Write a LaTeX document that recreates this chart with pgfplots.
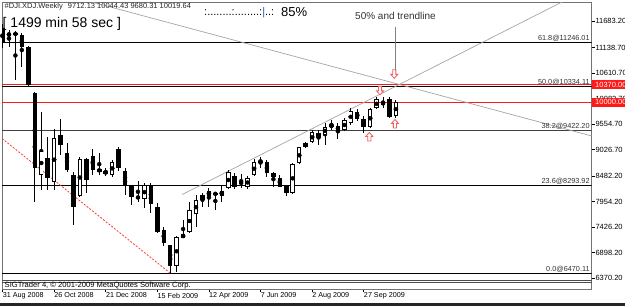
\documentclass[border=0pt]{standalone}
\usepackage{pgfplots}
\pgfplotsset{compat=1.18}
\usepackage{pgfplotstable}
\usepackage{fontspec}
\setmainfont{Liberation Sans}

\definecolor{arrowred}{RGB}{245,95,95}
\definecolor{trendgray}{RGB}{165,165,165}
\definecolor{fibred}{RGB}{255,25,25}

\pgfplotstableread{
x o h l c
0 11541 11620 11131 11231
2 11440 11480 10467 11400
3 11397 11438 10735 11148
4 11148 11160 10330 10363
5 10204 10220 7950 8641
7 8860 9288 8192 8434
9 9329 9660 8919 9123
10 8957 9164 8564 8606
11 8502 8571 7469 7847
13 8833 8854 8130 8399
14 8901 9040 8502 8606
15 8626 8951 8502 8571
16 8585 8647 8482 8523
18 9034 9087 8585 8653
19 8591 8647 8088 8296
20 8275 8296 7882 8054
21 8077 8375 7936 8000
23 8296 8330 7717 7903
24 7847 7917 7303 7330
25 7365 7434 7034 7103
26 7063 7063 6470 6627
33 8124 8151 7779 8103
36 8482 8537 8207 8248
37 8364 8523 8227 8310
41 8777 8812 8455 8550
42 8537 8571 8261 8455
43 8434 8502 8248 8261
44 8275 8296 8074 8124
49 9365 9433 9123 9274
52 9515 9571 9240 9418
55 9811 9861 9619 9654
56 9654 9722 9365 9489
59 10018 10121 9881 9950
60 10068 10109 9675 9708
}\bear

\pgfplotstableread{
x o h l c
1 11376 11510 11139 11438
6 8502 9799 8192 8999
8 8364 9453 8192 9274
12 8068 8874 8047 8833
17 8502 8812 8461 8777
22 7999 8337 7820 8296
27 6627 7240 6500 7224
28 7206 7572 7200 7276
29 7324 7950 7303 7779
30 7690 8089 7433 7986
31 7986 8130 7850 8089
32 8068 8227 7847 8172
34 8074 8296 7950 8178
35 8227 8606 8213 8571
38 8261 8482 8207 8434
39 8496 8827 8482 8765
40 8764 8881 8641 8799
45 8137 8744 8103 8730
46 8744 9087 8730 9075
47 9087 9191 9054 9158
48 9178 9433 9158 9385
50 9329 9571 9123 9501
51 9501 9640 9433 9540
53 9433 9674 9412 9640
54 9584 9882 9536 9826
57 9489 9882 9470 9861
58 9881 10109 9861 10068
61 9712.13 10044.43 9680.31 10019.64
}\bull

\pgfdeclareplotmark{uparr}{%
  \pgfpathmoveto{\pgfqpoint{0pt}{4.5pt}}%
  \pgfpathlineto{\pgfqpoint{-3.5pt}{0.6pt}}%
  \pgfpathlineto{\pgfqpoint{-1.6pt}{0.6pt}}%
  \pgfpathlineto{\pgfqpoint{-1.6pt}{-4pt}}%
  \pgfpathlineto{\pgfqpoint{1.6pt}{-4pt}}%
  \pgfpathlineto{\pgfqpoint{1.6pt}{0.6pt}}%
  \pgfpathlineto{\pgfqpoint{3.5pt}{0.6pt}}%
  \pgfpathclose
  \pgfusepathqfillstroke}
\pgfdeclareplotmark{dnarr}{%
  \pgfpathmoveto{\pgfqpoint{0pt}{-4.5pt}}%
  \pgfpathlineto{\pgfqpoint{-3.5pt}{-0.6pt}}%
  \pgfpathlineto{\pgfqpoint{-1.6pt}{-0.6pt}}%
  \pgfpathlineto{\pgfqpoint{-1.6pt}{4pt}}%
  \pgfpathlineto{\pgfqpoint{1.6pt}{4pt}}%
  \pgfpathlineto{\pgfqpoint{1.6pt}{-0.6pt}}%
  \pgfpathlineto{\pgfqpoint{3.5pt}{-0.6pt}}%
  \pgfpathclose
  \pgfusepathqfillstroke}

\begin{document}
\begin{tikzpicture}
\path[use as bounding box] (0pt,0pt) rectangle (625pt,306pt);
\fill[white] (0pt,0pt) rectangle (625pt,306pt);
\begin{axis}[
  at={(2pt,17pt)}, anchor=south west,
  scale only axis, width=589.7pt, height=287pt,
  xmin=-0.078, xmax=91.35, ymin=6145.5, ymax=12079.2,
  clip mode=individual,
  axis line style={black!55, line width=0.8pt},
  tick style={black, line width=0.6pt},
  tick align=outside, major tick length=3pt,
  xtick={0,8,16,24,32,40,48,56},
  xticklabels={31 Aug 2008, 26 Oct 2008, 21 Dec 2008, 15 Feb 2009, 12 Apr 2009, 7 Jun 2009, 2 Aug 2009, 27 Sep 2009},
  xtick pos=bottom,
  ytick={6370.2,6898.2,7426.2,7954.2,8482.2,9026.7,9554.7,10082.7,10610.7,11138.7,11683.2},
  yticklabels={6370.20,6898.20,7426.20,7954.20,8482.20,9026.70,9554.70,10082.70,10610.70,11138.70,11683.20},
  ytick pos=right, yticklabel pos=right,
  xticklabel style={font=\fontsize{7.2}{8}\selectfont, anchor=north west, inner sep=0.6pt, xshift=-0.5pt},
  yticklabel style={font=\fontsize{7.5}{8}\selectfont, anchor=west, inner sep=0.6pt},
]
% horizontal levels
\addplot[black, line width=0.8pt] coordinates {(-1,11246.01) (95,11246.01)};
\addplot[black, line width=0.8pt] coordinates {(-1,10334.11) (95,10334.11)};
\addplot[black!75, line width=0.8pt] coordinates {(-1,9422.20) (95,9422.20)};
\addplot[black, line width=0.8pt] coordinates {(-1,8293.92) (95,8293.92)};
\addplot[black, line width=0.8pt] coordinates {(-1,6470.11) (95,6470.11)};
\addplot[fibred, line width=1.4pt] coordinates {(-1,10370) (95,10370)};
\addplot[fibred, line width=1.4pt] coordinates {(-1,10000) (95,10000)};
% trend lines
\addplot[trendgray, line width=0.7pt] coordinates {(27.876,8099.3) (86.744,12079.2)};
\addplot[trendgray, line width=0.7pt] coordinates {(13.83,12079.2) (91.35,9308.8)};
\addplot[fibred!85, line width=0.8pt, dash pattern=on 2pt off 1.5pt] coordinates {(-0.078,9257.1) (25.97,6476.3)};
% wicks
\addplot[only marks, mark=none, error bars/.cd, y dir=both, y explicit, error mark=none,
  error bar style={black, line width=0.9pt}]
  table[x=x, y expr={(\thisrow{h}+\thisrow{l})/2}, y error expr={(\thisrow{h}-\thisrow{l})/2}] {\bear};
\addplot[only marks, mark=none, error bars/.cd, y dir=both, y explicit, error mark=none,
  error bar style={black, line width=0.9pt}]
  table[x=x, y expr={(\thisrow{h}+\thisrow{l})/2}, y error expr={(\thisrow{h}-\thisrow{l})/2}] {\bull};
% bodies
\addplot[only marks, mark=none, error bars/.cd, y dir=both, y explicit, error mark=none,
  error bar style={black, line width=4.5pt}]
  table[x=x, y expr={(\thisrow{o}+\thisrow{c})/2}, y error expr={max(abs(\thisrow{c}-\thisrow{o})/2,12)}] {\bear};
\addplot[only marks, mark=none, error bars/.cd, y dir=both, y explicit, error mark=none,
  error bar style={black, line width=4.5pt}]
  table[x=x, y expr={(\thisrow{o}+\thisrow{c})/2}, y error expr={max(abs(\thisrow{c}-\thisrow{o})/2,12)}] {\bull};
\addplot[only marks, mark=none, error bars/.cd, y dir=both, y explicit, error mark=none,
  error bar style={white, line width=2.6pt}]
  table[x=x, y expr={(\thisrow{o}+\thisrow{c})/2}, y error expr={max(abs(\thisrow{c}-\thisrow{o})/2-20.7,0)}] {\bull};
% arrows
\addplot[only marks, mark=uparr, mark options={draw=arrowred, fill=white, line width=0.8pt}]
  coordinates {(56.87,9288) (60.85,9557)};
\addplot[only marks, mark=dnarr, mark options={draw=arrowred, fill=white, line width=0.8pt}]
  coordinates {(58.53,10254) (60.74,10595)};
% level labels
\begin{scope}[every node/.style={font=\fontsize{7.3}{8}\selectfont, text=black!80, inner sep=0.6pt, anchor=south east}]
\node at (axis cs:91.15,11246.01) {61.8@11246.01};
\node at (axis cs:91.15,10334.11) {50.0@10334.11};
\node at (axis cs:91.15,9422.20) {38.2@9422.20};
\node at (axis cs:91.15,8293.92) {23.6@8293.92};
\node at (axis cs:91.15,6470.11) {0.0@6470.11};
\end{scope}
\end{axis}
% bottom frame lines and copyright bar
\draw[black!70, line width=0.6pt] (2pt,25.7pt) -- (591.7pt,25.7pt);
\draw[black!70, line width=0.6pt] (2pt,24pt) -- (591.7pt,24pt);
\node[anchor=west, inner sep=0pt, font=\fontsize{7.6}{8}\selectfont] at (4.5pt,20.5pt) {SIGTrader 4, © 2001-2009 MetaQuotes Software Corp.};
\fill[black!85] (0pt,0pt) rectangle (625pt,3.3pt);
% red price labels
\fill[fibred] (591.7pt,216.7pt) rectangle (626pt,226pt);
\node[anchor=west, inner sep=0pt, text=white, font=\fontsize{7.5}{8}\selectfont] at (595pt,221.3pt) {10370.00};
\fill[fibred] (591.7pt,199.3pt) rectangle (626pt,208.3pt);
\node[anchor=west, inner sep=0pt, text=white, font=\fontsize{7.5}{8}\selectfont] at (595pt,203.8pt) {10000.00};
% header texts
\node[anchor=base west, inner sep=0pt, font=\fontsize{7.5}{8}\selectfont, text=black!85] at (4.5pt,297pt) {\#DJI.XDJ.Weekly\hspace{3pt} 9712.13 10044.43 9680.31 10019.64};
\node[anchor=base west, inner sep=0pt, font=\fontsize{14}{15}\selectfont] at (2.5pt,278.7pt) {[ 1499 min 58 sec ]};
\node[anchor=base west, inner sep=0pt, font=\fontsize{11}{12}\selectfont] at (204pt,290.5pt) {:........:........:\textcolor[RGB]{50,80,190}{|}..:};
\node[anchor=base west, inner sep=0pt, font=\fontsize{13}{14}\selectfont] at (281pt,289.3pt) {85\%};
\node[anchor=base west, inner sep=0pt, font=\fontsize{10}{11}\selectfont, text=black!80] at (355pt,286pt) {50\% and trendline};
\draw[gray, line width=0.7pt] (395.7pt,279.3pt) -- (395.7pt,236pt);
\end{tikzpicture}
\end{document}
